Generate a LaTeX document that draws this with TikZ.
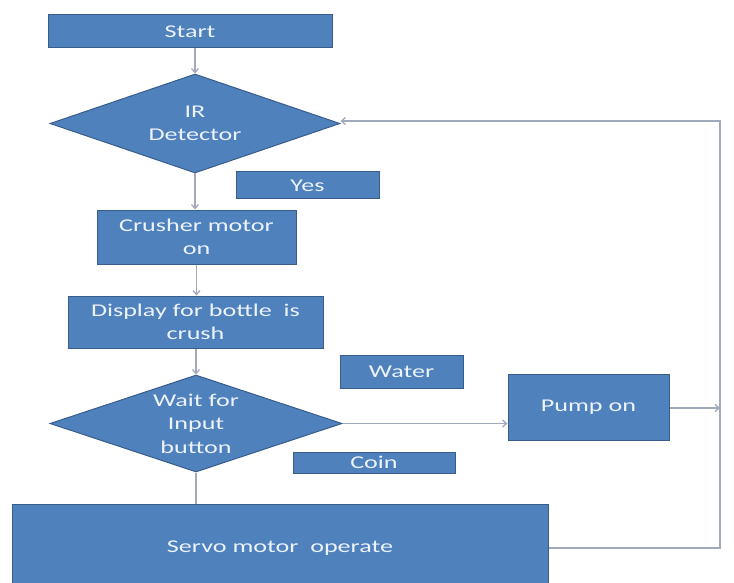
\documentclass[tikz,border=0pt]{standalone}
\usepackage{fontspec}
\setmainfont{Carlito}[FakeStretch=1.45]
\usetikzlibrary{shapes.geometric,arrows.meta}
\definecolor{boxfill}{RGB}{79,129,189}
\definecolor{boxline}{RGB}{56,93,138}
\definecolor{boxtext}{RGB}{236,243,250}
\definecolor{conn}{RGB}{160,170,186}
\tikzset{
  blk/.style={rectangle, fill=boxfill, draw=boxline, line width=1pt, inner sep=0pt,
    text=boxtext, align=center, font=\fontsize{18}{23.5}\selectfont},
  dia/.style={blk, diamond, aspect=3},
  conline/.style={draw=conn, line width=1.3pt},
  conarrow/.style={conline, -{Straight Barb[length=4pt,width=7pt]}}
}
\begin{document}
\begin{tikzpicture}[x=1pt,y=-1pt]
\clip (0,0) rectangle (734,583);
\fill[white] (0,0) rectangle (734,583);
\node[blk, minimum width=284pt, minimum height=33pt] (start) at (190,31.5) {Start};
\node[dia, minimum width=290pt, minimum height=99pt] (ir) at (195,123.5) {IR\\Detector};
\node[blk, minimum width=143pt, minimum height=27pt] (yes) at (307.5,185.5) {Yes};
\node[blk, minimum width=199pt, minimum height=54pt] (crusher) at (196.5,237) {Crusher motor\\on};
\node[blk, minimum width=255pt, minimum height=52pt] (display) at (195.5,322) {Display for bottle\ \ is\\crush};
\node[blk, minimum width=123pt, minimum height=33pt] (water) at (401.5,371.5) {Water};
\node[dia, minimum width=292pt, minimum height=97pt] (wait) at (196,423.5) {Wait for\\Input\\button};
\node[blk, minimum width=161pt, minimum height=66pt] (pump) at (588.5,407) {Pump on};
\node[blk, minimum width=162pt, minimum height=21pt] (coin) at (374,462.5) {Coin};
\node[blk, minimum width=536pt, minimum height=88pt] (servo) at (280,548) {Servo motor\ \ operate};
\coordinate (loopb) at (720,548);
\coordinate (loopt) at (720,121);
\coordinate (loopp) at (720,408);
\draw[conarrow] (ir.north |- start.south) -- (ir.north);
\draw[conarrow] (ir.south) -- (ir.south |- crusher.north);
\draw[conarrow] (crusher.south) -- (crusher.south |- display.north);
\draw[conarrow] (wait.north |- display.south) -- (wait.north);
\draw[conline] (wait.south) -- (wait.south |- servo.north);
\draw[conarrow] (wait.east) -- (wait.east -| pump.west);
\draw[conarrow] (pump.east |- loopp) -- (loopp);
\draw[conarrow] (servo.east) -- (loopb) -- (loopt) -- (ir.east |- loopt);
\end{tikzpicture}
\end{document}
